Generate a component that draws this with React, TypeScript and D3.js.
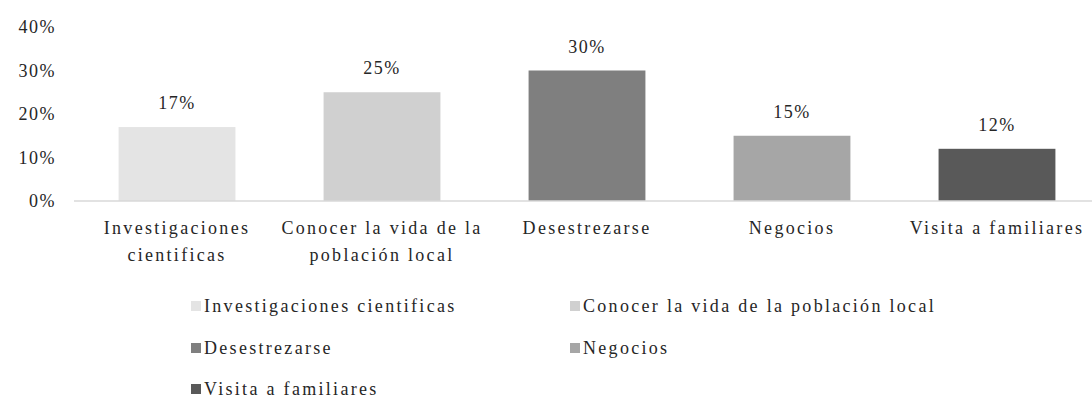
import React from 'react';
import * as d3 from 'd3';

const categories = ['Investigaciones cientificas', 'Conocer la vida de la población local', 'Desestrezarse', 'Negocios', 'Visita a familiares'];
const categoryLines = [['Investigaciones', 'cientificas'], ['Conocer la vida de la', 'población local'], ['Desestrezarse'], ['Negocios'], ['Visita a familiares']];
const values = [0.17, 0.25, 0.30, 0.15, 0.12];
const valueLabels = ['17%', '25%', '30%', '15%', '12%'];
const barColors = ['#e4e4e4', '#d0d0d0', '#7f7f7f', '#a6a6a6', '#595959'];
const yTicks = [0, 0.1, 0.2, 0.3, 0.4];

const width = 1092;
const height = 404;
const font = "Liberation Serif, DejaVu Serif, serif";

export default function App() {
    const x = d3.scaleBand<string>()
        .domain(categories)
        .range([74, 1100])
        .paddingInner(0.43)
        .paddingOuter(0.2175);

    const y = d3.scaleLinear()
        .domain([0, 0.4])
        .range([201, 27]);

    const fmt = d3.format('.0%');

    // legend in two columns, three rows
    const legendCols = [191, 570];
    const legendRows = [306, 348, 389];

    return (
        <svg width={width} height={height}
             style={{ position: 'absolute', left: 0, top: 0, background: '#fff', fontFamily: font, fontSize: 18 }}
             fill="#262626">
            {yTicks.map(t => (
                <text key={t} x={56} y={y(t) + 6} textAnchor="end" letterSpacing={1.5}>{fmt(t)}</text>
            ))}

            {categories.map((c, i) => (
                <rect key={c} x={x(c)} y={y(values[i])} width={x.bandwidth()} height={y(0) - y(values[i])}
                      fill={barColors[i]} />
            ))}

            <line x1={74} x2={width} y1={y(0)} y2={y(0)} stroke="#d9d9d9" strokeWidth={1.5} />

            {categories.map((c, i) => (
                <text key={c + '-v'} x={(x(c) as number) + x.bandwidth() / 2} y={y(values[i]) - 18}
                      textAnchor="middle" letterSpacing={1.5}>{valueLabels[i]}</text>
            ))}

            {categories.map((c, i) => (
                <text key={c + '-l'} x={(x(c) as number) + x.bandwidth() / 2} y={234}
                      textAnchor="middle" letterSpacing={2.3}>
                    {categoryLines[i].map((ln, j) => (
                        <tspan key={j} x={(x(c) as number) + x.bandwidth() / 2} dy={j === 0 ? 0 : 27}>{ln}</tspan>
                    ))}
                </text>
            ))}

            {categories.map((c, i) => {
                const lx = legendCols[i % 2];
                const ly = legendRows[Math.floor(i / 2)];
                return (
                    <g key={c + '-lg'}>
                        <rect x={lx} y={ly - 5} width={10} height={10} fill={barColors[i]} />
                        <text x={lx + 13} y={ly + 6} letterSpacing={2.3}>{c}</text>
                    </g>
                );
            })}
        </svg>
    );
}
